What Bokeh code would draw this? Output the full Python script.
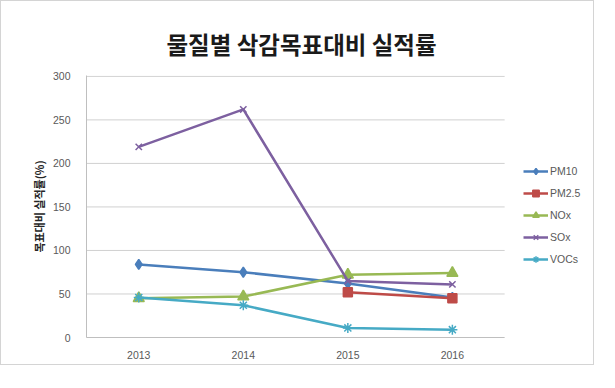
import math
from bokeh.plotting import figure
from bokeh.models import Legend, LegendItem, FixedTicker, Range1d
from bokeh.embed import file_html
from bokeh.resources import INLINE

nan = float("nan")

years = ["2013", "2014", "2015", "2016"]
pm10 = [84, 75, 62, 46]
pm25 = [nan, nan, 52, 45]
nox = [45, 47, 72, 74]
sox = [219, 262, 65, 61]
vocs = [46, 37, 11, 9]
y_ticks = [0, 50, 100, 150, 200, 250, 300]

title_text = "물질별 삭감목표대비 실적률"
ylabel_text = "목표대비 실적률(%)"

series = [
    ("PM10", pm10, "#4A7EBB", "diamond", 10),
    ("PM2.5", pm25, "#BE4B48", "square", 9),
    ("NOx", nox, "#98B954", "triangle", 11),
    ("SOx", sox, "#7D60A0", "x", 9),
    ("VOCs", vocs, "#46AAC5", "asterisk", 10),
]

xpos = list(range(len(years)))
n = len(years)
x_left = -0.5
x_right = n - 0.5

p = figure(
    width=594, height=365,
    x_range=Range1d(x_left, 4.35), y_range=Range1d(0, 301),
    output_backend="svg", toolbar_location=None,
    min_border_left=85, min_border_right=2,
    min_border_top=74, min_border_bottom=29,
    styles={"border": "1px solid #d4d4d4"},
)
p.outline_line_color = None
p.background_fill_color = "white"
p.border_fill_color = "white"

p.title.text = title_text
p.title.align = "left"
p.title.text_font = "Noto Sans CJK KR"
p.title.text_font_size = "23.5px"
p.title.text_font_style = "bold"
p.title.text_color = "#1a1a1a"
p.title.standoff = 29
p.title.offset = 80

for ax in (p.xaxis[0], p.yaxis[0]):
    ax.major_tick_line_color = None
    ax.minor_tick_line_color = None
    ax.axis_line_color = "#bfbfbf"
    ax.axis_line_width = 1
    ax.major_label_text_font = "Liberation Sans"
    ax.major_label_text_font_size = "10.5px"
    ax.major_label_text_color = "#595959"
p.yaxis[0].ticker = FixedTicker(ticks=y_ticks)
p.yaxis[0].major_label_standoff = 10
p.xaxis[0].ticker = FixedTicker(ticks=xpos)
p.xaxis[0].major_label_overrides = {i: y for i, y in zip(xpos, years)}
p.xaxis[0].major_label_standoff = 7
p.xaxis[0].bounds = (x_left, x_right)
p.yaxis[0].axis_label = ylabel_text
p.yaxis[0].axis_label_text_font = "Noto Sans CJK KR"
p.yaxis[0].axis_label_text_font_size = "11px"
p.yaxis[0].axis_label_text_font_style = "bold"
p.yaxis[0].axis_label_text_color = "#262626"
p.yaxis[0].axis_label_standoff = 3

p.xgrid.grid_line_color = None
p.ygrid.grid_line_color = None
p.segment(x0=[x_left] * len(y_ticks), y0=y_ticks, x1=[x_right] * len(y_ticks), y1=y_ticks,
          line_color="#d0d0d0", line_width=1)

items = []
for name, vals, color, marker, size in series:
    l = p.line(xpos, vals, line_color=color, line_width=2.5)
    s = p.scatter(xpos, vals, marker=marker, size=size, fill_color=color,
                  line_color=color, line_width=1.5)
    items.append(LegendItem(label=name, renderers=[l, s]))

legend = Legend(items=items, location=(437, 70))
legend.background_fill_alpha = 0
legend.border_line_color = None
legend.padding = 0
legend.margin = 0
legend.spacing = 6
legend.glyph_width = 25
legend.glyph_height = 16
legend.label_height = 16
legend.label_standoff = 2
legend.label_text_font = "Liberation Sans"
legend.label_text_font_size = "10.5px"
legend.label_text_color = "#595959"
p.add_layout(legend, "center")

open("out.html", "w").write(file_html(p, INLINE))
